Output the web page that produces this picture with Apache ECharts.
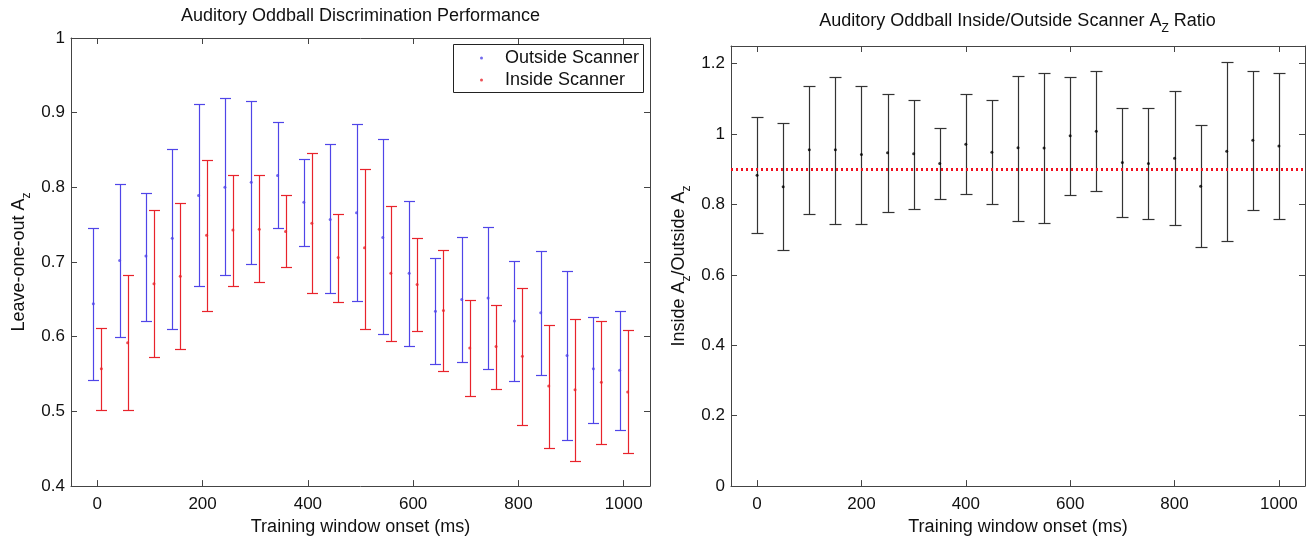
<!DOCTYPE html>
<html><head><meta charset="utf-8">
<script src="https://cdn.jsdelivr.net/npm/echarts@6/dist/echarts.min.js"></script>
<style>html,body{margin:0;padding:0;background:#fff}#c{width:1308px;height:541px}</style>
</head><body><div id="c"></div>
<script>
// ---------------- data ----------------
const onsets = [0,50,100,150,200,250,300,350,400,450,500,550,600,650,700,750,800,850,900,950,1000];

const outsideMean = [0.644,0.702,0.708,0.732,0.789,0.800,0.807,0.816,0.780,0.757,0.766,0.733,0.685,0.634,0.650,0.652,0.621,0.632,0.575,0.557,0.555];
const outsideLow  = [0.542,0.600,0.621,0.611,0.668,0.682,0.698,0.745,0.722,0.658,0.648,0.603,0.588,0.563,0.566,0.557,0.541,0.549,0.462,0.485,0.475];
const outsideHigh = [0.746,0.804,0.793,0.852,0.912,0.919,0.916,0.887,0.838,0.858,0.885,0.865,0.782,0.705,0.733,0.747,0.702,0.715,0.688,0.627,0.635];

const insideMean = [0.557,0.592,0.671,0.681,0.736,0.743,0.744,0.741,0.752,0.706,0.719,0.685,0.670,0.635,0.585,0.587,0.574,0.534,0.529,0.539,0.526];
const insideLow  = [0.502,0.502,0.573,0.584,0.635,0.668,0.673,0.693,0.658,0.647,0.611,0.594,0.608,0.554,0.520,0.530,0.482,0.451,0.434,0.456,0.444];
const insideHigh = [0.612,0.682,0.770,0.779,0.836,0.816,0.816,0.790,0.846,0.764,0.825,0.775,0.732,0.716,0.649,0.642,0.665,0.616,0.624,0.621,0.609];

const ratioMean = [0.883,0.850,0.955,0.955,0.942,0.947,0.944,0.916,0.971,0.948,0.961,0.960,0.995,1.008,0.919,0.916,0.931,0.852,0.951,0.982,0.966];
const ratioLow  = [0.719,0.670,0.772,0.745,0.745,0.779,0.787,0.815,0.830,0.801,0.754,0.746,0.828,0.838,0.763,0.758,0.742,0.679,0.697,0.785,0.758];
const ratioHigh = [1.047,1.030,1.137,1.163,1.137,1.115,1.098,1.017,1.113,1.096,1.166,1.174,1.161,1.180,1.074,1.074,1.122,1.025,1.204,1.180,1.172];

const ratioReference = 0.9;

const xTicks = [0,200,400,600,800,1000];
const leftYTicks = [0.4,0.5,0.6,0.7,0.8,0.9,1];
const rightYTicks = [0,0.2,0.4,0.6,0.8,1,1.2];

// ---------------- style ----------------
const FONT = '"Liberation Sans", Arial, Helvetica, sans-serif';
const TXT = '#111';
const AX = '#444';
const BLUE = '#4f45e8';
const RED = '#e8232b';
const BLACK = '#333';
const X_MIN = -50, X_MAX = 1050;

function xAxisDef(grid, pos, withLabels) {
  return {
    type:'value', gridIndex:grid, position:pos, min:X_MIN, max:X_MAX,
    axisLine:{show:true, onZero:false, lineStyle:{color:AX, width:1}},
    axisTick:{show:true, inside:true, length:6, customValues:xTicks, lineStyle:{color:AX}},
    axisLabel:{show:withLabels, customValues:xTicks, color:TXT, fontSize:17, fontFamily:FONT, margin:10,
      formatter:function(v){ return String(v); }},
    splitLine:{show:false},
    name: withLabels ? 'Training window onset (ms)' : '',
    nameLocation:'middle', nameGap:30,
    nameTextStyle:{color:TXT, fontSize:18, fontFamily:FONT}
  };
}
function yAxisDef(grid, pos, min, max, ticks, withLabels, name) {
  return {
    type:'value', gridIndex:grid, position:pos, min:min, max:max,
    axisLine:{show:true, onZero:false, lineStyle:{color:AX, width:1}},
    axisTick:{show:true, inside:true, length:6, customValues:ticks, lineStyle:{color:AX}},
    axisLabel:{show:withLabels, customValues:ticks, color:TXT, fontSize:17, fontFamily:FONT, margin:6,
      formatter:function(v){ return String(v); }},
    splitLine:{show:false},
    name: withLabels ? name : '',
    nameLocation:'middle', nameGap:38,
    nameTextStyle:{color:TXT, fontSize:18, fontFamily:FONT,
      rich:{z:{fontSize:12, fontFamily:FONT, color:TXT, padding:[16,0,0,0]}}}
  };
}

function errorBars(name, xi, yi, lows, highs, color, dx, cap) {
  return {
    type:'custom', name:name, xAxisIndex:xi, yAxisIndex:yi, silent:true, z:2,
    data: onsets.map((t,i)=>[t, lows[i], highs[i]]),
    encode:{x:0, y:[1,2]},
    renderItem:function(params, api){
      const lo = api.coord([api.value(0), api.value(1)]);
      const hi = api.coord([api.value(0), api.value(2)]);
      const x = Math.round(lo[0] + dx) + 0.5;
      const yl = Math.round(lo[1]) + 0.5, yh = Math.round(hi[1]) + 0.5;
      const st = {stroke:color, lineWidth:1.2};
      return {type:'group', children:[
        {type:'line', shape:{x1:x, y1:yh, x2:x, y2:yl}, style:st},
        {type:'line', shape:{x1:x-cap, y1:yh, x2:x+cap, y2:yh}, style:st},
        {type:'line', shape:{x1:x-cap, y1:yl, x2:x+cap, y2:yl}, style:st}
      ]};
    }
  };
}
function means(name, xi, yi, vals, color, dx) {
  return {
    type:'scatter', name:name, xAxisIndex:xi, yAxisIndex:yi, z:3, silent:true,
    symbol:'circle', symbolSize:3, symbolOffset:[dx,0],
    itemStyle:{color:color},
    data: onsets.map((t,i)=>[t, vals[i]])
  };
}

const chart = echarts.init(document.getElementById('c'), null, {renderer:'canvas'});
const ratioMeans = means('Ratio', 2, 2, ratioMean, '#000', 0);
ratioMeans.markLine = {
  silent:true, symbol:'none', label:{show:false}, animation:false,
  lineStyle:{color:'#f01020', width:3, type:[2,3]},
  data:[{yAxis: ratioReference}]
};

chart.setOption({
  animation:false,
  backgroundColor:'#fff',
  title:[
    {text:'Auditory Oddball Discrimination Performance', left:360.5, top:7, padding:0, textAlign:'center',
     textStyle:{fontSize:18, fontWeight:'normal', color:TXT, fontFamily:FONT}},
    {text:'Auditory Oddball Inside/Outside Scanner A{z|Z} Ratio', left:1017.5, top:7, padding:0, textAlign:'center',
     textStyle:{fontSize:18, fontWeight:'normal', color:TXT, fontFamily:FONT,
       rich:{z:{fontSize:12, fontFamily:FONT, color:TXT, padding:[16,0,0,0]}}}}
  ],
  grid:[
    {left:71, top:38, width:579, height:459},
    {left:731, top:46, width:574, height:451}
  ],
  xAxis:[ xAxisDef(0,'bottom',true), xAxisDef(0,'top',false), xAxisDef(1,'bottom',true), xAxisDef(1,'top',false) ],
  yAxis:[
    yAxisDef(0,'left',0.4,1,leftYTicks,true,'Leave-one-out A{z|z}'),
    yAxisDef(0,'right',0.4,1,leftYTicks,false,''),
    yAxisDef(1,'left',0,1.25,rightYTicks,true,'Inside A{z|z}/Outside A{z|z}'),
    yAxisDef(1,'right',0,1.25,rightYTicks,false,'')
  ],
  legend:{
    data:['Outside Scanner','Inside Scanner'],
    orient:'vertical', left:453, top:44, padding:[4,0,0,27],
    itemWidth:3, itemHeight:3, itemGap:2, icon:'circle',
    selectedMode:false,
    textStyle:{fontSize:18, color:TXT, fontFamily:FONT, lineHeight:20, padding:[0,0,0,17]}
  },
  graphic:[
    {type:'rect', shape:{x:453.5, y:44.5, width:190, height:48}, style:{fill:'#fff', stroke:'#222', lineWidth:1}, z:1, silent:true}
  ],
  series:[
    errorBars('outsideErr', 0, 0, outsideLow, outsideHigh, BLUE, -4, 5.5),
    errorBars('insideErr', 0, 0, insideLow, insideHigh, RED, 4, 5.5),
    means('Outside Scanner', 0, 0, outsideMean, BLUE, -4),
    means('Inside Scanner', 0, 0, insideMean, RED, 4),
    errorBars('ratioErr', 2, 2, ratioLow, ratioHigh, BLACK, 0, 6),
    ratioMeans
  ]
});
</script></body></html>
